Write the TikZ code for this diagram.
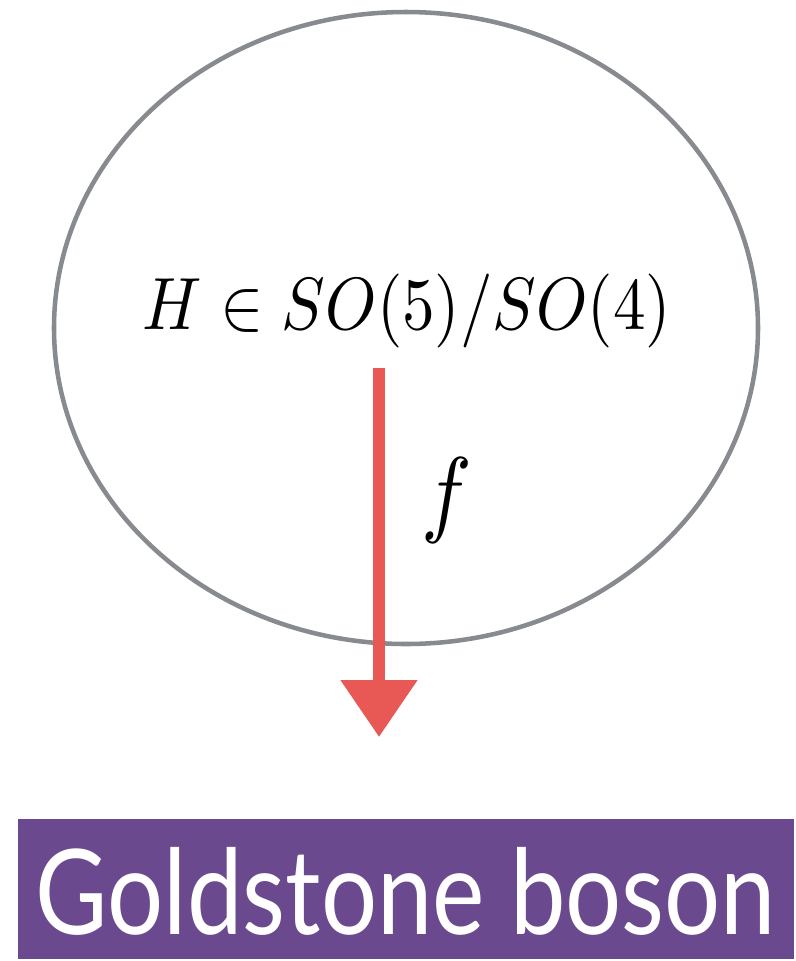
\documentclass[tikz,border=0pt]{standalone}
\usepackage{fontspec}
\usepackage{graphicx}
\newfontfamily\gfont{Lato}
\usetikzlibrary{arrows.meta}
\definecolor{ringgray}{RGB}{135,138,142}
\definecolor{arrowred}{RGB}{232,88,85}
\definecolor{boxpurple}{RGB}{107,73,143}
\tikzset{
  ring/.style={draw=ringgray,line width=3.4pt},
  redarrow/.style={draw=arrowred,line width=9pt,-{Triangle[width=55.5pt,length=42.75pt]}},
  labelbox/.style={fill=boxpurple,draw=none,minimum width=582pt,minimum height=105pt,inner sep=0pt},
  plain/.style={inner sep=0pt,outer sep=0pt}
}
\begin{document}
\begin{tikzpicture}[x=0.75pt,y=-0.75pt]
\useasboundingbox (0,0) rectangle (796,961);
\draw[ring] (406,328) ellipse [x radius=264pt, y radius=237pt];
\node[plain] (coset) at (407,311) {\resizebox*{396pt}{55.5pt}{$H\in SO(5)/SO(4)$}};
\coordinate (from) at (379,368);
\coordinate (to) at (379,737);
\draw[redarrow] (from) -- (to);
\node[plain] (flabel) at (447,500) {\resizebox*{38pt}{64pt}{$f$}};
\node[labelbox] (gb) at (406,889) {};
\node[plain,text=white] (gbtext) at (406,891) {\resizebox*{555pt}{66pt}{\gfont Goldstone boson}};
\end{tikzpicture}
\end{document}
